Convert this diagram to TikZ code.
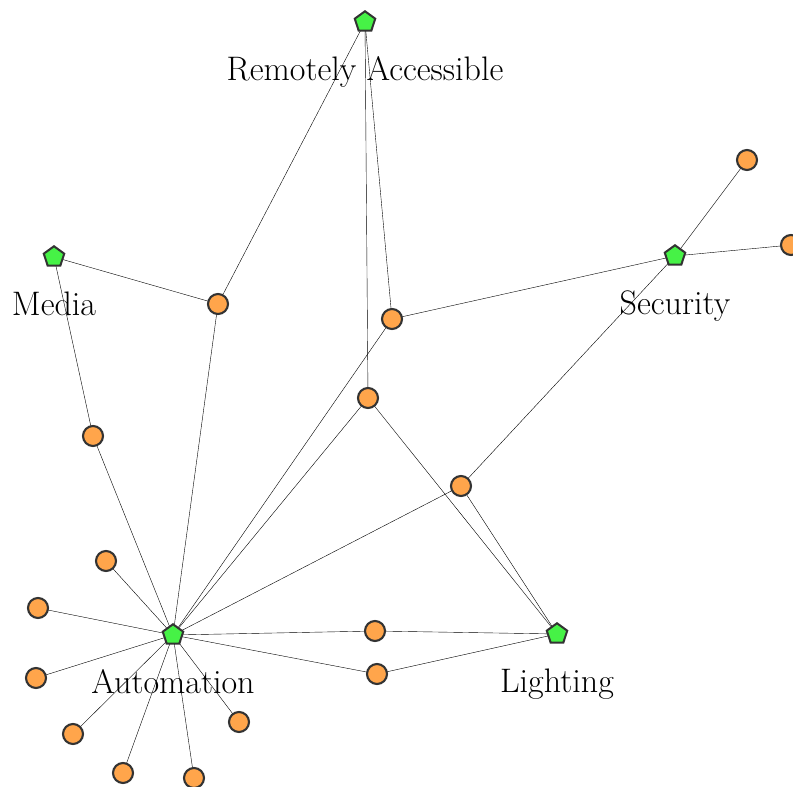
\documentclass[tikz,border=0pt]{standalone}
\usetikzlibrary{shapes.geometric,backgrounds}
\definecolor{hubgreen}{RGB}{70,242,70}
\definecolor{leaforange}{RGB}{255,165,75}
\definecolor{rim}{RGB}{51,51,51}
\begin{document}
\begin{tikzpicture}[x=1pt,y=-1pt,
  hub/.style={regular polygon,regular polygon sides=5,draw=rim,fill=hubgreen,line width=2pt,minimum size=21.5pt,inner sep=0pt},
  leaf/.style={circle,draw=rim,fill=leaforange,line width=2.1pt,minimum size=20pt,inner sep=0pt},
  lab/.style={anchor=base,font=\fontsize{34}{40}\selectfont,inner sep=0pt},
  edge/.style={line width=1.3pt,black}]
\useasboundingbox (0,0) rectangle (793,787);
% leaf nodes
\node[leaf] (a) at (218,304) {};
\node[leaf] (b) at (392,319) {};
\node[leaf] (c) at (368,398) {};
\node[leaf] (d) at (93,436) {};
\node[leaf] (e) at (461,486) {};
\node[leaf] (f) at (747,160) {};
\node[leaf] (g) at (791,245) {};
\node[leaf] (h) at (106,561) {};
\node[leaf] (i) at (38,608) {};
\node[leaf] (j) at (36,678) {};
\node[leaf] (k) at (73,734) {};
\node[leaf] (l) at (123,773) {};
\node[leaf] (m) at (194,778) {};
\node[leaf] (n) at (239,722) {};
\node[leaf] (o) at (375,631) {};
\node[leaf] (p) at (377,674) {};
% hub nodes
\node[hub] (R) at (365,22) {};
\node[hub] (Me) at (54,257) {};
\node[hub] (S) at (675,256) {};
\node[hub] (A) at (173,635) {};
\node[hub] (L) at (557,634) {};
% labels
\node[lab] (tR) at (365,80) {Remotely Accessible};
\node[lab] (tMe) at (54,315) {Media};
\node[lab] (tS) at (675,314) {Security};
\node[lab] (tA) at (173,693) {Automation};
\node[lab] (tL) at (557,692) {Lighting};
% edges
\begin{scope}[on background layer,edge]
\draw (R.center) -- (a.center);
\draw (R.center) -- (c.center);
\draw (R.center) -- (b.center);
\draw (Me.center) -- (a.center);
\draw (Me.center) -- (d.center);
\draw (d.center) -- (A.center);
\draw (a.center) -- (A.center);
\draw (b.center) -- (A.center);
\draw (b.center) -- (S.center);
\draw (c.center) -- (A.center);
\draw (c.center) -- (L.center);
\draw (e.center) -- (A.center);
\draw (e.center) -- (S.center);
\draw (e.center) -- (L.center);
\draw (S.center) -- (f.center);
\draw (S.center) -- (g.center);
\draw (A.center) -- (h.center);
\draw (A.center) -- (i.center);
\draw (A.center) -- (j.center);
\draw (A.center) -- (k.center);
\draw (A.center) -- (l.center);
\draw (A.center) -- (m.center);
\draw (A.center) -- (n.center);
\draw (A.center) -- (o.center);
\draw (o.center) -- (L.center);
\draw (A.center) -- (p.center);
\draw (p.center) -- (L.center);
\end{scope}
\end{tikzpicture}
\end{document}
